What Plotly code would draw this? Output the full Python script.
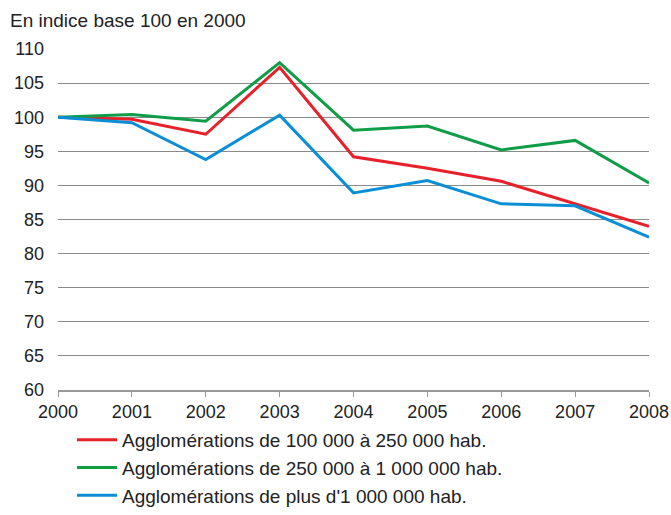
import plotly.graph_objects as go

years = [2000, 2001, 2002, 2003, 2004, 2005, 2006, 2007, 2008]
red_vals = [100, 99.7, 97.5, 107.3, 94.2, 92.5, 90.6, 87.3, 84.0]
green_vals = [100, 100.4, 99.4, 108.0, 98.1, 98.7, 95.2, 96.6, 90.35]
blue_vals = [100, 99.2, 93.8, 100.3, 88.9, 90.7, 87.3, 87.0, 82.4]
names = ["Agglomérations de 100 000 à 250 000 hab.",
         "Agglomérations de 250 000 à 1 000 000 hab.",
         "Agglomérations de plus d'1 000 000 hab."]
colors = ["#e8202a", "#0f9d48", "#0a8fd6"]
yticks = [60, 65, 70, 75, 80, 85, 90, 95, 100, 105, 110]

FONT = "Liberation Sans, Arial, sans-serif"
W, H = 671, 515
L, T, B = 58, 49, 125
PLOT_RIGHT = 649
PW = W - L            # paper width (right margin 0)
PH = H - T - B

fig = go.Figure()
for vals, nm, c in zip([red_vals, green_vals, blue_vals], names, colors):
    fig.add_trace(go.Scatter(x=years, y=vals, mode="lines", name=nm,
                             line=dict(color=c, width=3)))

fig.update_layout(
    width=W, height=H,
    margin=dict(l=L, r=0, t=T, b=B, pad=0),
    paper_bgcolor="white", plot_bgcolor="white",
    font=dict(family=FONT, size=18, color="#222"),
    showlegend=True,
    legend=dict(x=(72 - L) / PW, y=-(515 - (T + PH)) / PH,
                xanchor="left", yanchor="bottom",
                font=dict(family=FONT, size=19, color="#222"),
                tracegroupgap=0, itemwidth=40, bgcolor="rgba(0,0,0,0)"),
    annotations=[dict(text="En indice base 100 en 2000", xref="paper", yref="paper",
                      x=-50 / PW, y=1 + 29 / PH, xanchor="left", yanchor="middle",
                      showarrow=False, font=dict(family=FONT, size=19, color="#222"))],
)
fig.update_xaxes(range=[2000, 2008], tickvals=years, showgrid=False,
                 domain=[0, (PLOT_RIGHT - L) / PW],
                 showline=True, linecolor="#999", linewidth=1.5,
                 ticks="outside", ticklen=5, tickcolor="#999",
                 zeroline=False, fixedrange=True, automargin=False)
fig.update_yaxes(range=[60, 110], tickvals=yticks, showgrid=True,
                 gridcolor="#8a8a8a", gridwidth=1.2, zeroline=False,
                 showline=False, ticks="", ticklabelstandoff=13, fixedrange=True,
                 automargin=False)

fig.write_html("out.html", config={"displayModeBar": False},
               post_script="document.body.style.margin='0px';")
